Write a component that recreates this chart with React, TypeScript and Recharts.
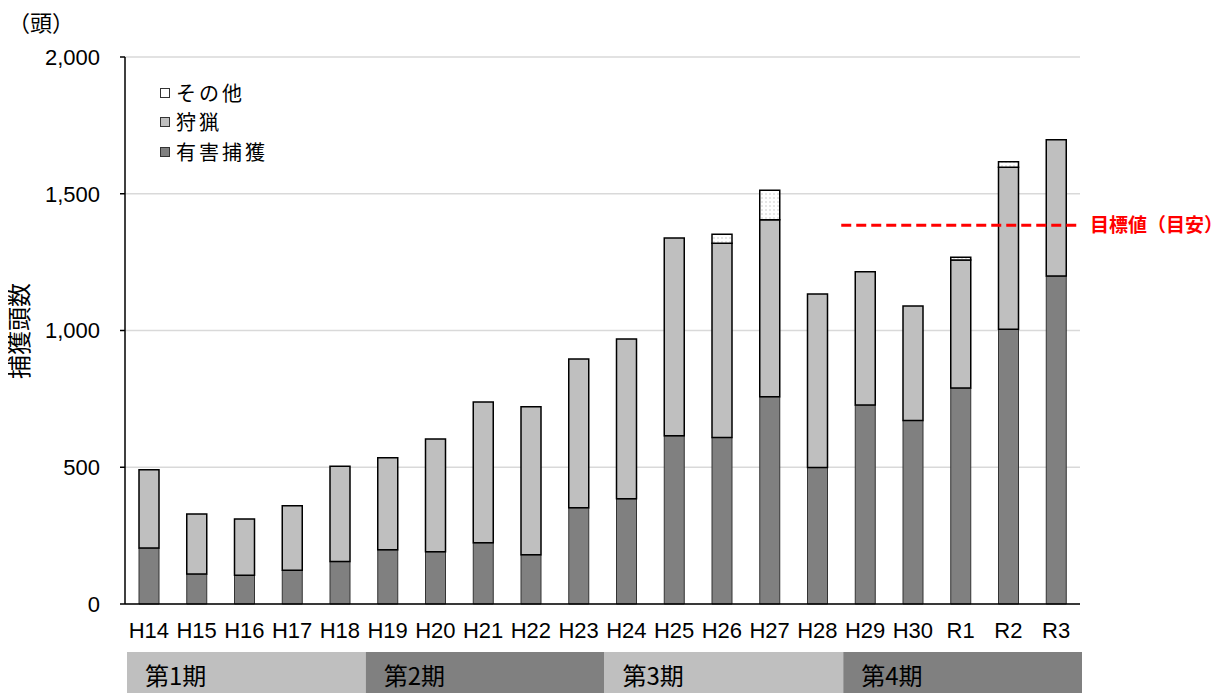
import React from 'react';
import {
  BarChart,
  Bar,
  XAxis,
  YAxis,
  CartesianGrid,
  ReferenceLine,
} from 'recharts';

// 年度別の捕獲頭数（頭）
const years = ['H14', 'H15', 'H16', 'H17', 'H18', 'H19', 'H20', 'H21', 'H22', 'H23',
  'H24', 'H25', 'H26', 'H27', 'H28', 'H29', 'H30', 'R1', 'R2', 'R3'];
const harmful = [205, 110, 105, 123, 155, 198, 191, 224, 180, 352,
  385, 615, 609, 758, 499, 728, 671, 790, 1005, 1199];
const hunting = [286, 219, 206, 236, 349, 337, 412, 515, 541, 544,
  584, 723, 710, 647, 634, 487, 419, 468, 592, 498];
const other = [0, 0, 0, 0, 0, 0, 0, 0, 0, 0,
  0, 0, 33, 108, 0, 0, 0, 10, 20, 0];

// 計画期間
const periodOfYear = ['第1期', '第1期', '第1期', '第1期', '第1期',
  '第2期', '第2期', '第2期', '第2期', '第2期',
  '第3期', '第3期', '第3期', '第3期', '第3期',
  '第4期', '第4期', '第4期', '第4期', '第4期'];
const periodNames = ['第1期', '第2期', '第3期', '第4期'];
const periodFill = ['#bfbfbf', '#808080', '#bfbfbf', '#808080'];

const yTicks = [0, 500, 1000, 1500, 2000];

// 目標値（目安）はH29から表示
const TARGET = 1385;
const TARGET_FROM = 'H29';

const JP = '"Noto Sans CJK JP", sans-serif';
const NUM = '"Liberation Sans", Arial, sans-serif';

const data = years.map((y, i) => ({
  year: y,
  period: periodOfYear[i],
  harmful: harmful[i],
  hunting: hunting[i],
  other: other[i],
}));

const legendItems = [
  { name: 'その他', fill: '#ffffff' },
  { name: '狩猟', fill: '#bfbfbf' },
  { name: '有害捕獲', fill: '#808080' },
];

const PeriodTick = (props: any) => {
  const { x, y, payload, width } = props;
  const bandW = (width || 955) / periodNames.length;
  const idx = periodNames.indexOf(payload.value);
  const left = x - bandW / 2;
  return (
    <g>
      <rect x={left + 2} y={y} width={bandW} height={41} fill={periodFill[idx]} />
      <text x={left + 20} y={y + 33} fontSize={24} fontFamily={JP} fill="#000">
        {payload.value}
      </text>
    </g>
  );
};

const targetShape = (props: any) => {
  const { x1, x2, y1 } = props;
  const start = x1 + ((x2 - x1) * years.indexOf(TARGET_FROM)) / years.length;
  return (
    <line x1={start} y1={y1} x2={x2} y2={y1} stroke="#ff0000" strokeWidth={3} strokeDasharray="10 5" />
  );
};

export default function App() {
  return (
    <div style={{ position: 'relative', width: 1217, height: 685, fontFamily: JP }}>
      <div style={{ position: 'absolute', left: 0, top: 0, fontSize: 22, lineHeight: '26px' }}>（頭）</div>
      <div
        style={{
          position: 'absolute',
          left: 10,
          top: 323,
          fontSize: 24,
          lineHeight: '24px',
          whiteSpace: 'nowrap',
          transform: 'translate(-50%, -50%) rotate(-90deg)',
        }}
      >
        捕獲頭数
      </div>
      <div style={{ position: 'absolute', left: 152, top: 70, zIndex: 2 }}>
        {legendItems.map((it) => (
          <div key={it.name} style={{ display: 'flex', alignItems: 'center', height: 29.5 }}>
            <span
              style={{
                display: 'inline-block',
                width: 8,
                height: 8,
                background: it.fill,
                border: '1.5px solid #333',
                marginRight: 6,
              }}
            />
            <span style={{ fontSize: 20, lineHeight: '22px', letterSpacing: 3 }}>{it.name}</span>
          </div>
        ))}
      </div>
      <BarChart
        width={1217}
        height={685}
        data={data}
        margin={{ top: 49, right: 145, left: 0, bottom: 0 }}
        barSize={20}
      >
        <defs>
          <pattern id="dots" width="4" height="4" patternUnits="userSpaceOnUse">
            <rect width="4" height="4" fill="#ffffff" />
            <circle cx="2" cy="2" r="0.8" fill="#c8c8c8" />
          </pattern>
        </defs>
        <CartesianGrid vertical={false} stroke="#d9d9d9" strokeWidth={1.5} />
        <XAxis
          dataKey="year"
          height={48}
          tickLine={false}
          tickSize={0}
          tickMargin={18}
          axisLine={{ stroke: '#000', strokeWidth: 1.5 }}
          tick={{ fontSize: 22, fill: '#000', fontFamily: NUM }}
          interval={0}
        />
        <XAxis
          xAxisId="period"
          dataKey="period"
          allowDuplicatedCategory={false}
          height={41}
          axisLine={false}
          tickLine={false}
          tickSize={0}
          tickMargin={0}
          tick={<PeriodTick />}
          interval={0}
        />
        <YAxis
          width={117}
          domain={[0, 2000]}
          ticks={yTicks}
          tickSize={5}
          tickMargin={20}
          axisLine={{ stroke: '#000', strokeWidth: 1.5 }}
          tickLine={{ stroke: '#000', strokeWidth: 1.5 }}
          tick={{ fontSize: 22, fill: '#000', fontFamily: NUM }}
          tickFormatter={(v: number) => v.toLocaleString('en-US')}
        />
        <Bar dataKey="harmful" stackId="a" fill="#808080" stroke="#333" strokeWidth={1} isAnimationActive={false} />
        <Bar dataKey="hunting" stackId="a" fill="#bfbfbf" stroke="#000" strokeWidth={1.5} isAnimationActive={false} />
        <Bar dataKey="other" stackId="a" fill="url(#dots)" stroke="#000" strokeWidth={1.5} isAnimationActive={false} />
        <ReferenceLine
          y={TARGET}
          shape={targetShape}
          label={{
            value: '目標値（目安）',
            position: 'right',
            offset: 10,
            fill: '#ff0000',
            fontSize: 19,
            fontWeight: 'bold',
            fontFamily: JP,
          }}
        />
      </BarChart>
    </div>
  );
}
